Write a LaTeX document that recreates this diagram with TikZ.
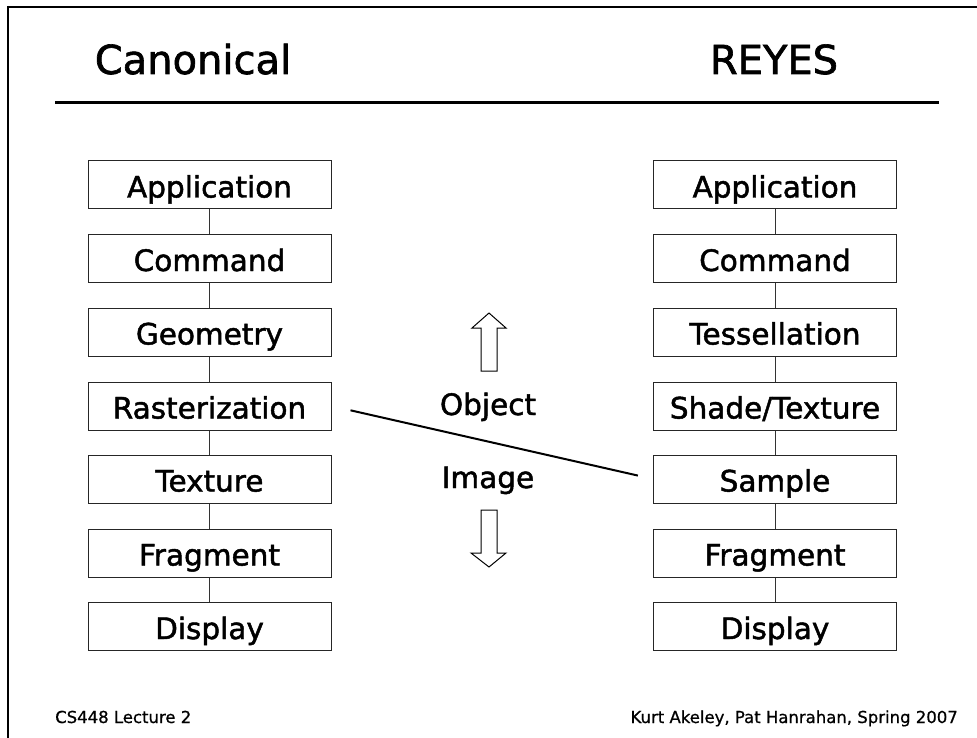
\documentclass[tikz,border=0pt]{standalone}
\usepackage{fontspec}
\setmainfont{DejaVu Sans}
\newfontfamily\heavyface[FakeBold=1.6]{DejaVu Sans}
\newfontfamily\footface[FakeBold=0.8]{DejaVu Sans}
\begin{document}
\begin{tikzpicture}[x=1pt,y=-1pt,
  stage/.style={draw=black!85, line width=1pt, minimum width=243pt,
    minimum height=48pt, inner sep=0pt, text height=27pt, text depth=2pt,
    font=\heavyface\fontsize{29.5}{36}\selectfont},
  link/.style={draw=black!80, line width=0.8pt},
  label/.style={inner sep=0pt, font=\heavyface\fontsize{29.5}{36}\selectfont},
  heading/.style={anchor=base, inner sep=0pt, font=\heavyface\fontsize{40}{48}\selectfont},
  footer/.style={inner sep=0pt, font=\footface\fontsize{16.5}{20}\selectfont},
  hollow/.style={draw=black, line width=1pt, fill=white, line join=miter}]
\useasboundingbox (0,0) rectangle (977,738);

% slide frame and heading rule
\draw[line width=2pt] (8,7) -- (977,7);
\draw[line width=2pt] (8,6) -- (8,738);
\draw[line width=3pt] (55,103) -- (939,103);

% headings
\node[heading] (tcan) at (193,74) {Canonical};
\node[heading] (trey) at (774,74) {REYES};

% canonical pipeline
\node[stage] (la) at (209.5,185) {Application};
\node[stage] (lc) at (209.5,258.5) {Command};
\node[stage] (lg) at (209.5,332) {Geometry};
\node[stage] (lr) at (209.5,406) {Rasterization};
\node[stage] (lt) at (209.5,479) {Texture};
\node[stage] (lf) at (209.5,553) {Fragment};
\node[stage] (ld) at (209.5,626.5) {Display};

% REYES pipeline
\node[stage] (ra) at (775,185) {Application};
\node[stage] (rc) at (775,258.5) {Command};
\node[stage] (rt) at (775,332) {Tessellation};
\node[stage] (rh) at (775,406) {Shade/Texture};
\node[stage] (rs) at (775,479) {Sample};
\node[stage] (rf) at (775,553) {Fragment};
\node[stage] (rd) at (775,626.5) {Display};

\foreach \a/\b in {la/lc,lc/lg,lg/lr,lr/lt,lt/lf,lf/ld,ra/rc,rc/rt,rt/rh,rh/rs,rs/rf,rf/rd}
  \draw[link] (\a.south) -- (\b.north);

% object / image split
\draw[line width=2pt, shorten <=19.5pt, shorten >=15.5pt] (lr.east) -- (rs.west);
\node[label, anchor=base] (obj) at (488,415) {Object};
\node[label, anchor=base] (img) at (488,488) {Image};

% hollow direction arrows
\draw[hollow] (481,371) -- (481,328) -- (472,328) -- (489,313) -- (506,328)
  -- (497,328) -- (497,371) -- cycle;
\draw[hollow] (481,510) -- (481,553) -- (471,553) -- (489,567) -- (506,553)
  -- (497,553) -- (497,510) -- cycle;

% footer
\node[footer, anchor=base west] (fl) at (55,723) {CS448 Lecture 2};
\node[footer, anchor=base east] (fr) at (958,723) {Kurt Akeley, Pat Hanrahan, Spring 2007};
\end{tikzpicture}
\end{document}
